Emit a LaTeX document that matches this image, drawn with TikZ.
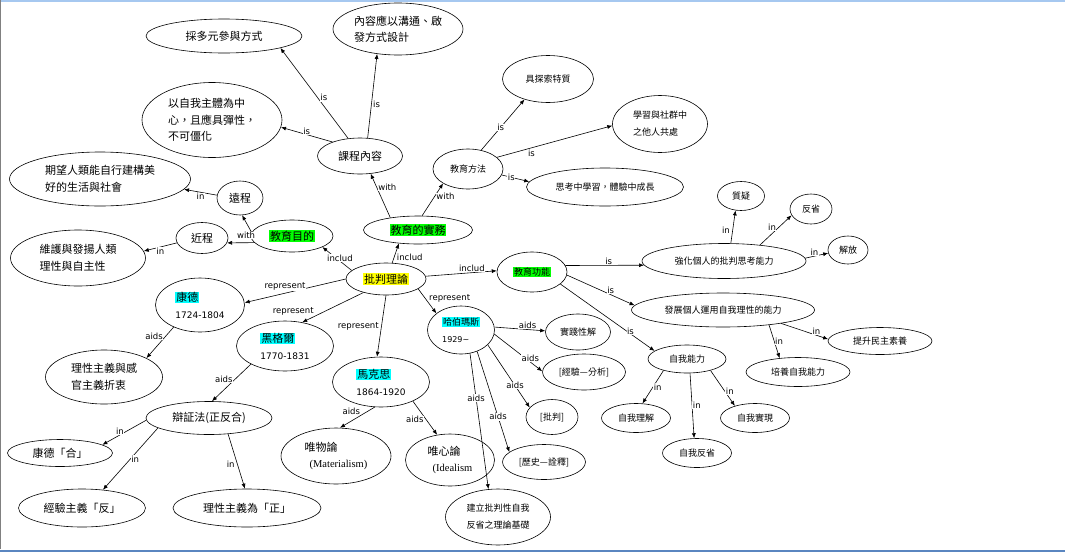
\documentclass[tikz,border=0pt]{standalone}
\usepackage{fontspec}
\setmainfont{DejaVu Sans}
\newfontfamily\cjk{Noto Sans CJK TC}
\newfontfamily\latn{DejaVu Sans}
\newfontfamily\romn{Liberation Serif}
\usetikzlibrary{shapes.geometric,arrows.meta}

\definecolor{hlgreen}{HTML}{00FF00}
\definecolor{hlcyan}{HTML}{00FFFF}
\definecolor{hlyellow}{HTML}{FFFF00}
\definecolor{topblue}{HTML}{A6C8F0}
\definecolor{botblue}{HTML}{5A86C0}

\newcommand\bigtxt{\cjk\fontsize{11}{16.5}\selectfont}
\newcommand\smalltxt{\cjk\fontsize{9}{17}\selectfont}
\newcommand\lbltxt{\latn\fontsize{8.5}{10}\selectfont}
\newcommand\hlt[2]{{\fboxsep=0.8pt\colorbox{#1}{#2}}}
\newcommand\yr[1]{{\latn\fontsize{9}{16}\selectfont #1}}
\newcommand\eng[1]{{\romn\fontsize{10.5}{16}\selectfont #1}}

\tikzset{
  bub/.style={ellipse,draw,line width=0.6pt,inner sep=0pt,align=left,font=\bigtxt},
  sbub/.style={bub,font=\smalltxt},
  sz/.style 2 args={minimum width=#1pt,minimum height=#2pt},
  lbl/.style={font=\lbltxt,fill=white,inner sep=0.5pt},
  arr/.style={-{Latex[length=5pt,width=4pt]},line width=0.6pt}
}

\begin{document}
\begin{tikzpicture}[x=1pt,y=-1pt]
\useasboundingbox (0,0) rectangle (1065,552);

% window frame
\draw[topblue,line width=1.5pt] (0,0.75) -- (1065,0.75);
\draw[gray,line width=1.2pt] (0.6,0) -- (0.6,549);
\draw[botblue,line width=2pt] (0,550.5) -- (1065,550.5);

% centre
\node[bub,sz={80}{32}] (root) at (386,279) {\hlt{hlyellow}{批判理論}};
\node[bub,sz={82}{32}] (aim) at (292,236) {\hlt{hlgreen}{教育目的}};
\node[bub,sz={109}{28}] (prac) at (418,230) {\hlt{hlgreen}{教育的實務}};
\node[sbub,sz={70}{40}] (func) at (532,272) {\hlt{hlgreen}{教育功能}};

% aims
\node[bub,sz={46}{34}] (far) at (240,198) {遠程};
\node[bub,sz={52}{31}] (near) at (202,238) {近程};
\node[bub,sz={181}{54}] (farT) at (100,179) {期望人類能自行建構美\\好的生活與社會};
\node[bub,sz={135}{56}] (nearT) at (78,258) {維護與發揚人類\\理性與自主性};

% practice
\node[bub,sz={85}{36}] (crs) at (360,156) {課程內容};
\node[bub,sz={156}{34}] (crsA) at (224,36) {採多元參與方式};
\node[bub,sz={130}{52}] (crsB) at (398,29) {內容應以溝通、啟\\發方式設計};
\node[bub,sz={140}{75}] (crsC) at (212,120) {以自我主體為中\\心，且應具彈性，\\不可僵化};
\node[sbub,sz={70}{40}] (meth) at (468,169) {教育方法};
\node[sbub,sz={91}{47}] (methA) at (548,79) {具探索特質};
\node[sbub,sz={95}{57}] (methB) at (660,124) {學習與社群中\\之他人共處};
\node[sbub,sz={157}{38}] (methC) at (605,187) {思考中學習，體驗中成長};

% functions
\node[sbub,sz={164}{35}] (fnA) at (724,261) {強化個人的批判思考能力};
\node[sbub,sz={47}{29}] (fnA1) at (741,196) {質疑};
\node[sbub,sz={42}{30}] (fnA2) at (811,209) {反省};
\node[sbub,sz={40}{28}] (fnA3) at (848,250) {解放};
\node[sbub,sz={183}{34}] (fnB) at (723,310) {發展個人運用自我理性的能力};
\node[sbub,sz={104}{27}] (fnB1) at (880,341) {提升民主素養};
\node[sbub,sz={104}{29}] (fnB2) at (798,372) {培養自我能力};
\node[sbub,sz={78}{28}] (fnC) at (687,359) {自我能力};
\node[sbub,sz={69}{29}] (fnC1) at (636,418) {自我理解};
\node[sbub,sz={69}{29}] (fnC2) at (697,453) {自我反省};
\node[sbub,sz={69}{29}] (fnC3) at (755,418) {自我實現};

% thinkers
\node[bub,sz={89}{54}] (kant) at (200,305) {\hlt{hlcyan}{康德}\\\yr{1724-1804}};
\node[bub,sz={117}{54}] (kantA) at (104,377) {理性主義與感\\官主義折衷};
\node[bub,sz={97}{50}] (hegel) at (285,346) {\hlt{hlcyan}{黑格爾}\\\yr{1770-1831}};
\node[bub,sz={126}{33}] (dial) at (209,418) {辯証法(正反合)};
\node[bub,sz={105}{27}] (dialA) at (60,453) {康德「合」};
\node[bub,sz={127}{38}] (dialB) at (82,508) {經驗主義「反」};
\node[bub,sz={148}{38}] (dialC) at (247,508) {理性主義為「正」};
\node[bub,sz={97}{50}] (marx) at (381,382) {\hlt{hlcyan}{馬克思}\\\yr{1864-1920}};
\node[bub,sz={110}{56}] (marxA) at (336,456) {唯物論\\\hspace{5pt}\eng{(Materialism)}};
\node[bub,sz={89}{52}] (marxB) at (450,460) {唯心論\\\hspace{5pt}\eng{(Idealism}};
\node[sbub,sz={67}{48}] (haber) at (461,330) {\hlt{hlcyan}{哈伯瑪斯}\\{\latn\fontsize{8}{16}\selectfont 1929\textasciitilde}};
\node[sbub,sz={65}{36}] (habA) at (578,332) {實踐性解};
\node[sbub,sz={83}{36}] (habB) at (584,372) {[經驗—分析]};
\node[sbub,sz={52}{35}] (habC) at (552,417) {[批判]};
\node[sbub,sz={83}{35}] (habD) at (544,462) {[歷史—詮釋]};
\node[sbub,sz={105}{56}] (habE) at (498,517) {建立批判性自我\\反省之理論基礎};

% connectors
\draw[arr] (root.166) -- node[lbl,pos=.4,above=-1pt]{includ} (aim.-20);
\draw[arr] (root.69) -- node[lbl,pos=.3,right=2pt]{includ} (prac.-145);
\draw[arr] (root.4) -- node[lbl,pos=.65,above]{includ} (func.178);
\draw[arr] (aim.175) -- (far.-83);
\draw[arr] (aim.190) -- node[lbl,pos=.3,above=3pt]{with} (near.-11);
\draw[arr] (far.173) -- node[lbl,pos=.5,below]{in} (farT.-7);
\draw[arr] (near.191) -- node[lbl,pos=.5,below]{in} (nearT.6);
\draw[arr] (prac.156) -- node[lbl,pos=.7,right=1pt]{with} (crs.-59);
\draw[arr] (prac.74) -- node[lbl,pos=.6,right=1pt]{with} (meth.-150);
\draw[arr] (crs.124) -- node[lbl,pos=.45,right=2pt]{is} (crsA.-12);
\draw[arr] (crs.67) -- node[lbl,pos=.4,right=1pt]{is} (crsB.-130);
\draw[arr] (crs.153) -- node[lbl,pos=.5,above=-1pt]{is} (crsC.-6);
\draw[arr] (meth.55) -- node[lbl,pos=.45]{is} (methA.-139);
\draw[arr] (meth.22) -- node[lbl,pos=.3,below=1pt]{is} (methB.182);
\draw[arr] (meth.-10) -- node[lbl,pos=.35]{is} (methC.176);
\draw[arr] (func.11) -- node[lbl,pos=.55,above]{is} (fnA.183);
\draw[arr] (func.-5) -- node[lbl,pos=.6,above right=-1pt]{is} (fnB.177);
\draw[arr] (func.-23) -- node[lbl,pos=.7,right]{is} (fnC.166);
\draw[arr] (fnA.69) -- node[lbl,pos=.4,left=2pt]{in} (fnA1.-111);
\draw[arr] (fnA.24) -- node[lbl,pos=.5,above left=-1pt]{in} (fnA2.-162);
\draw[arr] (fnA.2) -- node[lbl,pos=.4,above]{in} (fnA3.-171);
\draw[arr] (fnB.-13) -- node[lbl,pos=.75,above]{in} (fnB1.178);
\draw[arr] (fnB.-18) -- node[lbl,pos=.5,right]{in} (fnB2.143);
\draw[arr] (fnC.-154) -- node[lbl,pos=.5,right]{in} (fnC1.66);
\draw[arr] (fnC.-78) -- node[lbl,pos=.5,right]{in} (fnC2.101);
\draw[arr] (fnC.-26) -- node[lbl,pos=.6,right]{in} (fnC3.149);
\draw[arr] (root.180) -- node[lbl,pos=.6,above=2pt]{represent} (kant.3);
\draw[arr] (root.211) -- node[lbl,pos=.8,above left=0pt]{represent} (hegel.54);
\draw[arr] (root.-90) -- node[lbl,pos=.5,left=2pt]{represent} (marx.99);
\draw[arr] (root.-17) -- node[lbl,pos=.4,right=3pt]{represent} (haber.146);
\draw[arr] (kant.-140) -- node[lbl,pos=.3,left=2pt]{aids} (kantA.24);
\draw[arr] (hegel.-152) -- node[lbl,pos=.4,left=2pt]{aids} (dial.80);
\draw[arr] (dial.182) -- node[lbl,pos=.6,above]{in} (dialA.11);
\draw[arr] (dial.191) -- node[lbl,pos=.5,right]{in} (dialB.41);
\draw[arr] (dial.-40) -- node[lbl,pos=.55,left=2pt]{in} (dialC.96);
\draw[arr] (marx.-104) -- node[lbl,pos=.4,above left]{aids} (marxA.82);
\draw[arr] (marx.-31) -- node[lbl,pos=.55,left=2pt]{aids} (marxB.117);
\draw[arr] (haber.5) -- node[lbl,pos=.65,above]{aids} (habA.178);
\draw[arr] (haber.-7) -- node[lbl,pos=.75,above]{aids} (habB.179);
\draw[arr] (haber.-29) -- node[lbl,pos=.65]{aids} (habC.157);
\draw[arr] (haber.-53) -- node[lbl,pos=.65]{aids} (habD.164);
\draw[arr] (haber.-69) -- node[lbl,pos=.33]{aids} (habE.109);
\end{tikzpicture}
\end{document}
